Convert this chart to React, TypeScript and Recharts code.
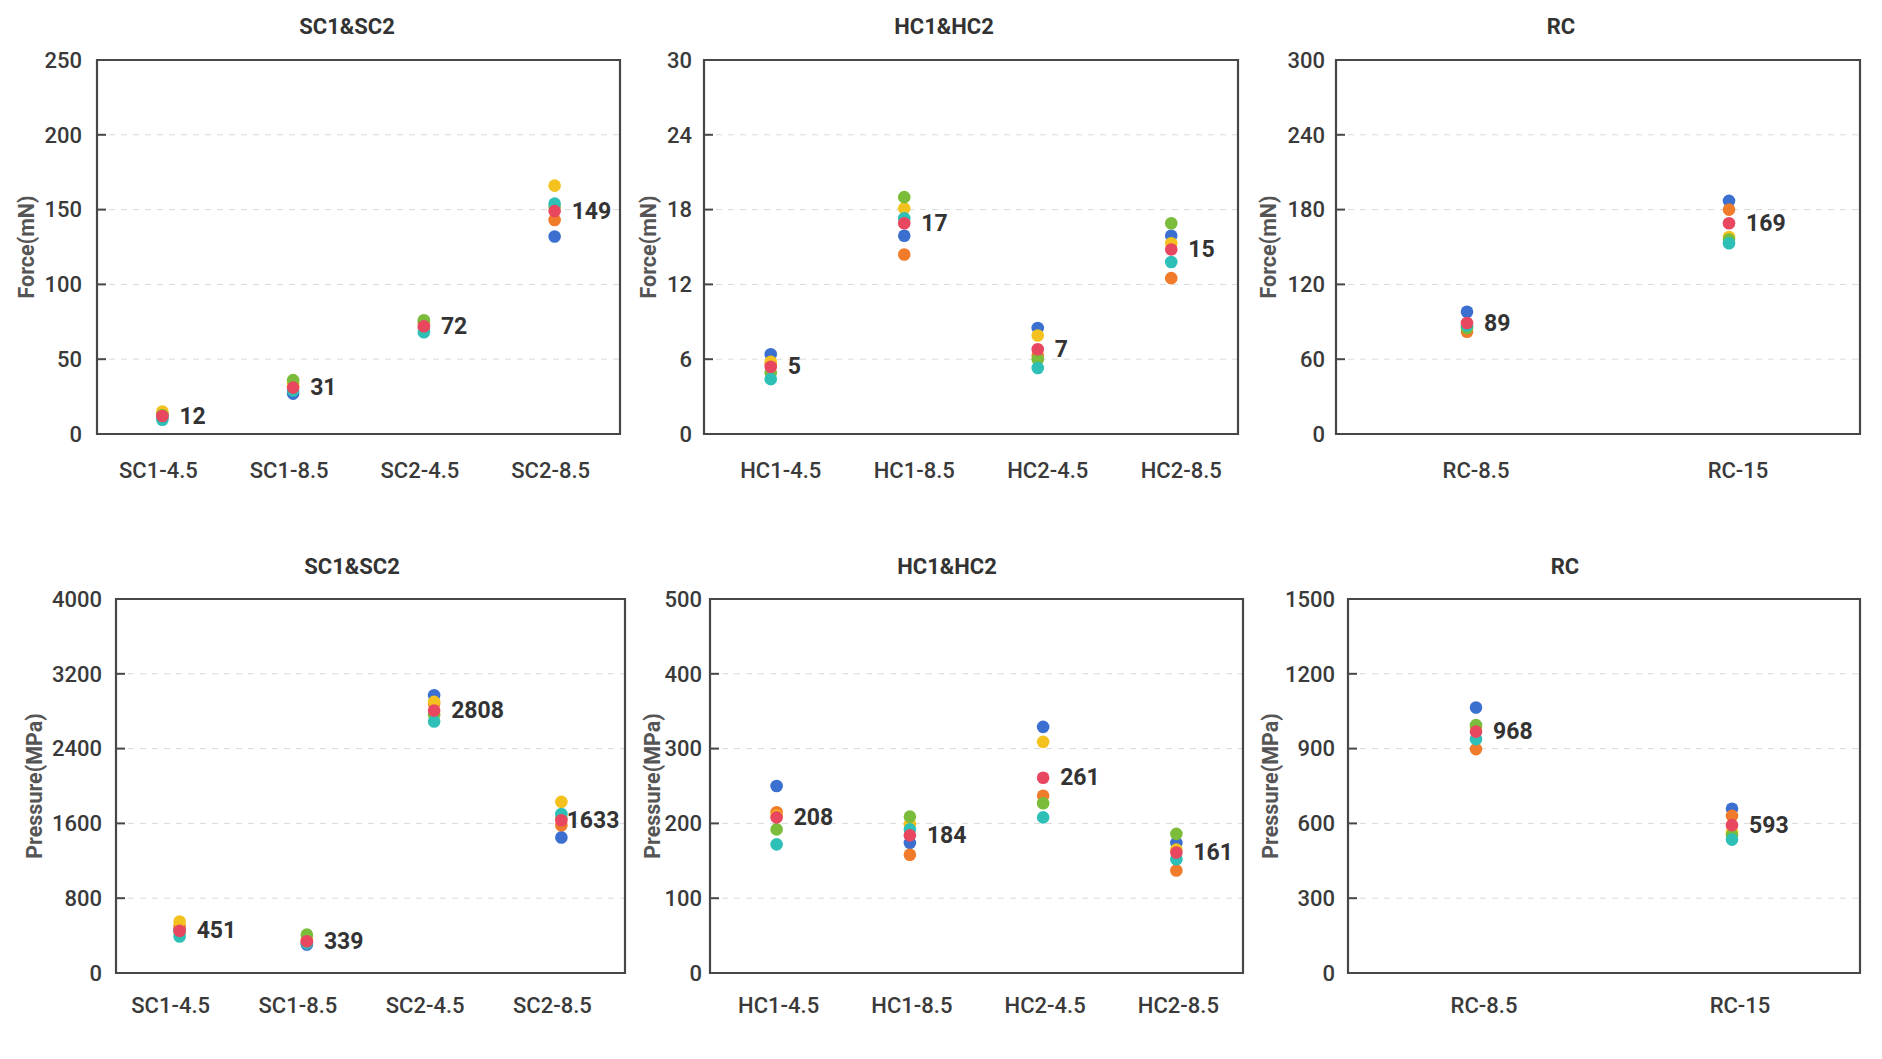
import { CartesianGrid, ReferenceArea, Scatter, ScatterChart, XAxis, YAxis } from 'recharts'

// series order: five samples, then the mean (drawn last, labelled)
const SERIES_NAMES = ['Sample 1', 'Sample 2', 'Sample 3', 'Sample 4', 'Sample 5', 'Mean']
const SERIES_COLORS = ['#3b6fd0', '#ef7b2b', '#f3c21e', '#7bbd3b', '#2ebfb7', '#e8475f']

const SC_CATEGORIES = ['SC1-4.5', 'SC1-8.5', 'SC2-4.5', 'SC2-8.5']
const HC_CATEGORIES = ['HC1-4.5', 'HC1-8.5', 'HC2-4.5', 'HC2-8.5']
const RC_CATEGORIES = ['RC-8.5', 'RC-15']

const SC_FORCE = [
  [11, 27, 75, 132],
  [13, 32, 71, 143],
  [15, 34, 74, 166],
  [12.5, 36, 76, 152],
  [9.5, 29, 68, 154],
  [12, 31, 72, 149],
]
const HC_FORCE = [
  [6.4, 15.9, 8.5, 15.9],
  [5.6, 14.4, 6.3, 12.5],
  [5.8, 18.1, 7.9, 15.3],
  [4.9, 19.0, 6.0, 16.9],
  [4.4, 17.3, 5.3, 13.8],
  [5.4, 16.9, 6.8, 14.8],
]
const RC_FORCE = [
  [98, 187],
  [82, 180],
  [86, 158],
  [85, 156],
  [87, 153],
  [89, 169],
]
const SC_PRESSURE = [
  [460, 305, 2970, 1450],
  [500, 330, 2880, 1580],
  [550, 360, 2900, 1830],
  [430, 410, 2760, 1660],
  [390, 320, 2690, 1700],
  [451, 339, 2808, 1633],
]
const HC_PRESSURE = [
  [250, 174, 329, 174],
  [215, 158, 237, 137],
  [210, 199, 309, 165],
  [192, 209, 227, 186],
  [172, 192, 208, 152],
  [208, 184, 261, 161],
]
const RC_PRESSURE = [
  [1065, 659],
  [898, 630],
  [985, 565],
  [994, 553],
  [938, 535],
  [968, 593],
]

const SC_FORCE_TICKS = [0, 50, 100, 150, 200, 250]
const HC_FORCE_TICKS = [0, 6, 12, 18, 24, 30]
const RC_FORCE_TICKS = [0, 60, 120, 180, 240, 300]
const SC_PRESSURE_TICKS = [0, 800, 1600, 2400, 3200, 4000]
const HC_PRESSURE_TICKS = [0, 100, 200, 300, 400, 500]
const RC_PRESSURE_TICKS = [0, 300, 600, 900, 1200, 1500]

const FONT = 'Roboto, "Noto Sans", sans-serif'
const TICK_SIZE = 22
const LABEL_SIZE = 23
const DOT_R = 6.3
const Y_AXIS_W = 100
const M_TOP = 20
const M_RIGHT = 10
const X_AXIS_H = 60
const INNER_TICK = 9

type Layout = {
  plotLeft: number
  plotTop: number
  plotW: number
  plotH: number
  titleX: number
  titleY: number
  yLabelX: number
  xTickMargin: number
  xTickDx: number
  yTickGap: number
}

type PanelProps = {
  title: string
  yLabel: string
  categories: string[]
  values: number[][]
  ticks: number[]
  layout: Layout
}

function DotPanel({ title, yLabel, categories, values, ticks, layout }: PanelProps) {
  const n = categories.length
  const yMax = ticks[ticks.length - 1]
  const chartW = Y_AXIS_W + layout.plotW + M_RIGHT
  const chartH = M_TOP + layout.plotH + X_AXIS_H
  const plotRight = Y_AXIS_W + layout.plotW
  const seriesData = values.map((vals) => categories.map((name, i) => ({ x: i, y: vals[i], name })))

  const dot = (color: string) => (p: any) => <circle cx={p.cx} cy={p.cy} r={DOT_R} fill={color} />

  const meanDot = (color: string) => (p: any) => {
    const text = String(Math.round(p.payload.y))
    const textW = text.length * 0.58 * LABEL_SIZE
    const lx = Math.min(p.cx + 17, plotRight - 5 - textW)
    return (
      <g>
        <circle cx={p.cx} cy={p.cy} r={DOT_R} fill={color} />
        <text
          x={lx}
          y={p.cy}
          dominantBaseline="central"
          fontFamily={FONT}
          fontSize={LABEL_SIZE}
          fontWeight={700}
          fill="#333"
        >
          {text}
        </text>
      </g>
    )
  }

  return (
    <>
      <div
        style={{
          position: 'absolute',
          left: layout.titleX,
          top: layout.titleY,
          transform: 'translate(-50%, -50%)',
          fontSize: 22,
          fontWeight: 700,
          color: '#333',
          whiteSpace: 'nowrap',
        }}
      >
        {title}
      </div>
      <div
        style={{
          position: 'absolute',
          left: layout.yLabelX,
          top: layout.plotTop + layout.plotH / 2,
          transform: 'translate(-50%, -50%) rotate(-90deg)',
          fontSize: 21.5,
          fontWeight: 700,
          color: '#555',
          whiteSpace: 'nowrap',
        }}
      >
        {yLabel}
      </div>
      <div style={{ position: 'absolute', left: layout.plotLeft - Y_AXIS_W, top: layout.plotTop - M_TOP }}>
        <ScatterChart width={chartW} height={chartH} margin={{ top: M_TOP, right: M_RIGHT, left: 0, bottom: 0 }}>
          <CartesianGrid vertical={false} stroke="#d9d9d9" strokeDasharray="6 6" />
          <XAxis
            type="number"
            dataKey="x"
            domain={[-0.5, n - 0.5]}
            ticks={categories.map((_, i) => i)}
            tickFormatter={(i: number) => categories[i] ?? ''}
            interval={0}
            height={X_AXIS_H}
            axisLine={false}
            tickLine={false}
            tickSize={0}
            tickMargin={layout.xTickMargin}
            tick={{ fill: '#3a3a3a', fontSize: TICK_SIZE, fontFamily: FONT, fontWeight: 500, dx: layout.xTickDx }}
          />
          <YAxis
            type="number"
            dataKey="y"
            domain={[0, yMax]}
            ticks={ticks}
            interval={0}
            width={Y_AXIS_W}
            axisLine={false}
            tickLine={{ stroke: '#474747', strokeWidth: 2 }}
            tickSize={-INNER_TICK}
            tickMargin={layout.yTickGap + INNER_TICK}
            tick={{ fill: '#3a3a3a', fontSize: TICK_SIZE, fontFamily: FONT, fontWeight: 500 }}
          />
          <ReferenceArea
            x1={-0.5}
            x2={n - 0.5}
            y1={0}
            y2={yMax}
            fill="none"
            stroke="#474747"
            strokeWidth={2.2}
            ifOverflow="visible"
          />
          {seriesData.map((data, si) => (
            <Scatter
              key={SERIES_NAMES[si]}
              name={SERIES_NAMES[si]}
              data={data}
              fill={SERIES_COLORS[si]}
              shape={si === seriesData.length - 1 ? meanDot(SERIES_COLORS[si]) : dot(SERIES_COLORS[si])}
              isAnimationActive={false}
            />
          ))}
        </ScatterChart>
      </div>
    </>
  )
}

const TOP = { plotTop: 60, plotH: 374, titleY: 26, xTickMargin: 28 }
const BOTTOM = { plotTop: 599, plotH: 374, titleY: 566, xTickMargin: 24 }

export default function App() {
  return (
    <div
      style={{
        position: 'absolute',
        left: 0,
        top: 0,
        width: 1882,
        height: 1059,
        background: '#fff',
        fontFamily: FONT,
        overflow: 'hidden',
      }}
    >
      <DotPanel
        title="SC1&SC2"
        yLabel="Force(mN)"
        categories={SC_CATEGORIES}
        values={SC_FORCE}
        ticks={SC_FORCE_TICKS}
        layout={{ ...TOP, plotLeft: 97, plotW: 523, titleX: 347, yLabelX: 26, xTickDx: -4, yTickGap: 15 }}
      />
      <DotPanel
        title="HC1&HC2"
        yLabel="Force(mN)"
        categories={HC_CATEGORIES}
        values={HC_FORCE}
        ticks={HC_FORCE_TICKS}
        layout={{ ...TOP, plotLeft: 704, plotW: 534, titleX: 944, yLabelX: 648, xTickDx: 10, yTickGap: 12 }}
      />
      <DotPanel
        title="RC"
        yLabel="Force(mN)"
        categories={RC_CATEGORIES}
        values={RC_FORCE}
        ticks={RC_FORCE_TICKS}
        layout={{ ...TOP, plotLeft: 1336, plotW: 524, titleX: 1561, yLabelX: 1268, xTickDx: 9, yTickGap: 11 }}
      />
      <DotPanel
        title="SC1&SC2"
        yLabel="Pressure(MPa)"
        categories={SC_CATEGORIES}
        values={SC_PRESSURE}
        ticks={SC_PRESSURE_TICKS}
        layout={{ ...BOTTOM, plotLeft: 116, plotW: 509, titleX: 352, yLabelX: 34, xTickDx: -9, yTickGap: 14 }}
      />
      <DotPanel
        title="HC1&HC2"
        yLabel="Pressure(MPa)"
        categories={HC_CATEGORIES}
        values={HC_PRESSURE}
        ticks={HC_PRESSURE_TICKS}
        layout={{ ...BOTTOM, plotLeft: 710, plotW: 533, titleX: 947, yLabelX: 652, xTickDx: 2, yTickGap: 8 }}
      />
      <DotPanel
        title="RC"
        yLabel="Pressure(MPa)"
        categories={RC_CATEGORIES}
        values={RC_PRESSURE}
        ticks={RC_PRESSURE_TICKS}
        layout={{ ...BOTTOM, plotLeft: 1348, plotW: 512, titleX: 1565, yLabelX: 1270, xTickDx: 8, yTickGap: 13 }}
      />
    </div>
  )
}
